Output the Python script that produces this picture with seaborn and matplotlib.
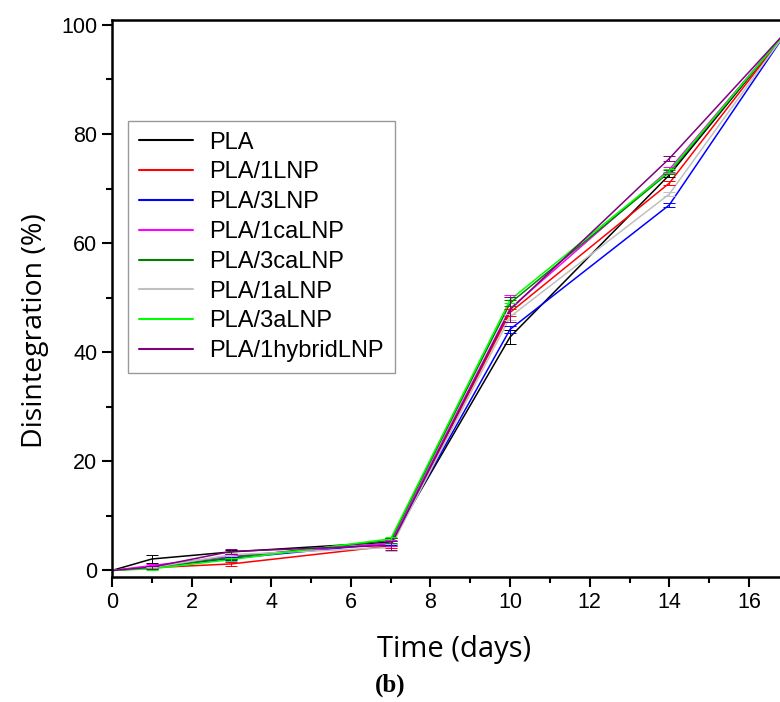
import numpy as np
import pandas as pd
import seaborn as sns
import matplotlib.pyplot as plt
from matplotlib.ticker import MultipleLocator

# disintegration vs time
days = [0, 1, 3, 7, 10, 14, 17]
names = ['PLA', 'PLA/1LNP', 'PLA/3LNP', 'PLA/1caLNP', 'PLA/3caLNP',
         'PLA/1aLNP', 'PLA/3aLNP', 'PLA/1hybridLNP']
pla = [0, 2.1, 3.4, 5.2, 42.8, 72.5, 99.3]
pla_1lnp = [0, 0.5, 1.2, 4.5, 47.3, 71.0, 99.3]
pla_3lnp = [0, 0.6, 2.2, 5.0, 44.2, 67.0, 99.3]
pla_1calnp = [0, 0.9, 2.6, 5.0, 48.0, 73.5, 99.3]
pla_3calnp = [0, 0.5, 2.4, 5.5, 49.0, 73.0, 99.3]
pla_1alnp = [0, 0.5, 2.9, 4.2, 46.5, 69.0, 99.3]
pla_3alnp = [0, 0.3, 2.0, 5.8, 49.6, 73.2, 99.3]
pla_1hybrid = [0, 0.6, 3.5, 4.6, 47.8, 75.5, 99.3]
values = [pla, pla_1lnp, pla_3lnp, pla_1calnp, pla_3calnp, pla_1alnp, pla_3alnp, pla_1hybrid]

# standard deviations (small error bars)
err_pla = [0, 0.7, 0.4, 0.7, 1.2, 0.4, 0]
err_1lnp = [0, 0.2, 0.3, 0.4, 0.6, 0.4, 0]
err_3lnp = [0, 0.2, 0.3, 0.4, 0.6, 0.4, 0]
err_1calnp = [0, 0.3, 0.5, 0.5, 2.5, 0.4, 0]
err_3calnp = [0, 0.2, 0.3, 0.4, 0.6, 0.4, 0]
err_1alnp = [0, 0.2, 0.3, 0.6, 0.6, 0.4, 0]
err_3alnp = [0, 0.2, 0.3, 0.4, 0.5, 0.4, 0]
err_1hybrid = [0, 0.3, 0.5, 0.8, 2.3, 0.4, 0]
errors = [err_pla, err_1lnp, err_3lnp, err_1calnp, err_3calnp, err_1alnp, err_3alnp, err_1hybrid]

colors = ['#000000', '#ff0000', '#0000ff', '#ff00ff', '#008000', '#c0c0c0', '#00ff00', '#800080']

rows = []
for n, v, e in zip(names, values, errors):
    for d, y, s in zip(days, v, e):
        rows.append({'Time': d, 'Disintegration': y, 'err': s, 'sample': n})
df = pd.DataFrame(rows)

sns.set_style('ticks')
plt.rcParams['font.family'] = ['Liberation Sans', 'DejaVu Sans']
plt.rcParams.update({'text.color': 'black', 'axes.labelcolor': 'black',
                     'xtick.color': 'black', 'ytick.color': 'black',
                     'axes.edgecolor': 'black'})

fig = plt.figure(figsize=(7.8, 7.02), dpi=100)
ax = fig.add_axes([112 / 780, (702 - 577) / 702, 1 - 112 / 780, 557 / 702])

sns.lineplot(data=df, x='Time', y='Disintegration', hue='sample', hue_order=names,
             palette=colors, linewidth=1.1, ax=ax, legend=True)
for n, c in zip(names, colors):
    sub = df[df['sample'] == n]
    ax.errorbar(sub['Time'], sub['Disintegration'], yerr=sub['err'], fmt='none',
                ecolor=c, elinewidth=0.7, capsize=4, capthick=0.7)

ax.set_xlim(0, 16.78)
ax.set_ylim(-1.2, 100.9)
ax.xaxis.set_major_locator(MultipleLocator(2))
ax.xaxis.set_minor_locator(MultipleLocator(1))
ax.yaxis.set_major_locator(MultipleLocator(20))
ax.yaxis.set_minor_locator(MultipleLocator(10))
ax.tick_params(which='major', length=7, width=1.5, labelsize=15.5, direction='out')
ax.tick_params(which='minor', length=4, width=1.5, direction='out')
for s in ['left', 'bottom', 'top']:
    ax.spines[s].set_linewidth(1.8)
ax.spines['right'].set_visible(False)

ax.set_xlabel('Time (days)', fontsize=21, family=['Open Sans', 'DejaVu Sans'])
ax.set_ylabel('Disintegration (%)', fontsize=20.5, family=['Open Sans', 'DejaVu Sans'])
ax.xaxis.set_label_coords((454 - 112) / 668, -0.105)
ax.yaxis.set_label_coords(-0.095, (577 - 331) / 557)

leg = ax.legend(loc='upper left', bbox_to_anchor=(16 / 668, (577 - 121) / 557), fontsize=17,
                frameon=True, fancybox=False, edgecolor='#808080', handlelength=2.3,
                labelspacing=0.33, borderpad=0.45, handletextpad=0.7, borderaxespad=0)
leg.get_frame().set_linewidth(1.0)
for h in leg.get_lines():
    h.set_linewidth(1.5)

fig.text(0.5, 0.015, '(b)', ha='center', fontsize=18, fontweight='bold',
         family=['Liberation Serif', 'DejaVu Serif'])

fig.savefig('out.png', dpi=100)
